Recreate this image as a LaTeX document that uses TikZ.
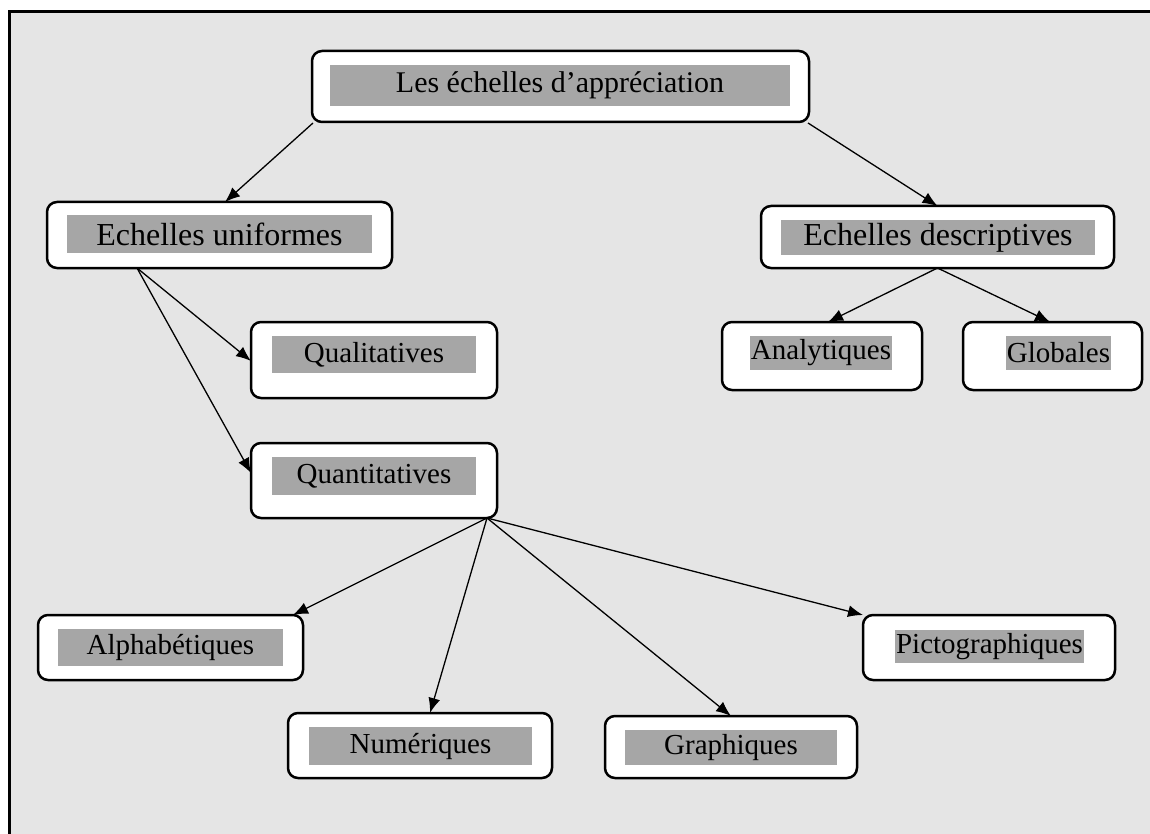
\documentclass[tikz,border=0pt]{standalone}
\usepackage{fontspec}
\setmainfont{Liberation Serif}
\usetikzlibrary{arrows.meta}
\definecolor{pagebg}{HTML}{E5E5E5}
\definecolor{hlgray}{HTML}{A6A6A6}
\tikzset{
  box/.style={draw=black, fill=white, line width=2.5pt, rounded corners=10pt,
    inner sep=0pt, outer sep=0pt},
  hl/.style={fill=hlgray, inner sep=0pt, outer sep=0pt, text=black},
  big/.style={font=\fontsize{32}{36}\selectfont},
  title/.style={font=\fontsize{30}{34}\selectfont},
  small/.style={font=\fontsize{29}{33}\selectfont},
  link/.style={line width=1.3pt, -{Latex[length=15pt,width=12pt]}},
}
\begin{document}
\begin{tikzpicture}[x=1pt, y=-1pt]
\useasboundingbox (0,0) rectangle (1150,834);
% page frame
\fill[pagebg] (10,12) rectangle (1150,834);
\draw[line width=3pt] (9.5,834) -- (9.5,12) -- (1150,12);

% outer boxes
\node[box, minimum width=497pt, minimum height=71pt] (top)   at (560.5,86.5) {};
\node[box, minimum width=345pt, minimum height=66pt] (uni)   at (219.5,235) {};
\node[box, minimum width=353pt, minimum height=62pt] (desc)  at (937.5,237) {};
\node[box, minimum width=246pt, minimum height=76pt] (qual)  at (374,360) {};
\node[box, minimum width=246pt, minimum height=75pt] (quant) at (374,480.5) {};
\node[box, minimum width=200pt, minimum height=68pt] (anal)  at (822,356) {};
\node[box, minimum width=179pt, minimum height=68pt] (glob)  at (1052.5,356) {};
\node[box, minimum width=265pt, minimum height=65pt] (alpha) at (170.5,647.5) {};
\node[box, minimum width=252pt, minimum height=65pt] (picto) at (989,647.5) {};
\node[box, minimum width=264pt, minimum height=65pt] (num)   at (420,745.5) {};
\node[box, minimum width=252pt, minimum height=62pt] (graph) at (731,747) {};

% highlighted labels
\node[hl, title, minimum width=460pt, minimum height=41pt] (ttop)   at (560,85.5) {Les échelles d’appréciation};
\node[hl, big, minimum width=305pt, minimum height=38pt] (tuni)   at (219.5,234) {Echelles uniformes};
\node[hl, big, minimum width=314pt, minimum height=35pt] (tdesc)  at (938,237.5) {Echelles descriptives};
\node[hl, small, minimum width=204pt, minimum height=37pt] (tqual)  at (374,354.5) {Qualitatives};
\node[hl, small, minimum width=204pt, minimum height=38pt] (tquant) at (374,476) {Quantitatives};
\node[hl, small, minimum width=142pt, minimum height=34pt] (tanal)  at (821,353) {Analytiques};
\node[hl, small, minimum width=105pt, minimum height=34pt] (tglob)  at (1058.5,353) {Globales};
\node[hl, small, minimum width=225pt, minimum height=37pt] (talpha) at (170.5,647.5) {Alphabétiques};
\node[hl, small, minimum width=189pt, minimum height=33pt] (tpicto) at (989.5,646.5) {Pictographiques};
\node[hl, small, minimum width=223pt, minimum height=38pt] (tnum)   at (420.5,746) {Numériques};
\node[hl, small, minimum width=212pt, minimum height=35pt] (tgraph) at (731,747.5) {Graphiques};

% connectors
\draw[link] ([xshift=1pt,yshift=-1pt]top.south west) -- ([xshift=5.5pt]uni.north);
\draw[link] ([xshift=-1pt,yshift=-1pt]top.south east) -- (desc.north);
\draw[link] ([xshift=90pt]uni.south west) -- ([yshift=-1pt]qual.west);
\draw[link] ([xshift=90pt]uni.south west) -- ([yshift=7.5pt]quant.west);
\draw[link] ([xshift=-10pt]quant.south east) -- ([xshift=-10pt]alpha.north east);
\draw[link] ([xshift=-10pt]quant.south east) -- ([xshift=10pt]num.north);
\draw[link] ([xshift=-10pt]quant.south east) -- (graph.north);
\draw[link] ([xshift=-10pt]quant.south east) -- (picto.north west);
\draw[link] (desc.south) -- ([xshift=6pt]anal.north);
\draw[link] (desc.south) -- ([xshift=-2.5pt]glob.north);
\end{tikzpicture}
\end{document}
